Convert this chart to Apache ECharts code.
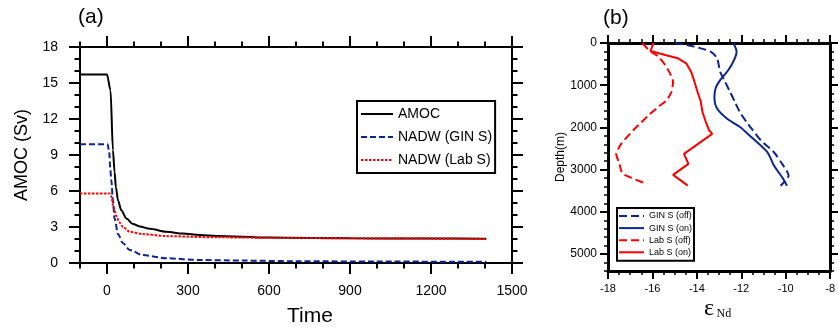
<!DOCTYPE html>
<html><head><meta charset="utf-8">
<script src="https://cdn.jsdelivr.net/npm/echarts@6/dist/echarts.min.js"></script>
<style>html,body{margin:0;padding:0;background:#fff}#c{width:838px;height:330px}</style>
</head><body><div id="c"></div>
<script>
// ---------- panel (a) data ----------
const amocTime  = [-100, 0, 13, 22, 28, 33, 41, 53, 72, 96, 121, 158, 220, 281, 343, 405, 600, 900, 1200, 1405];
const amocVal   = [15.7, 15.7, 14.4, 9.4, 7.6, 6.3, 5.2, 4.4, 3.7, 3.25, 3.05, 2.85, 2.6, 2.45, 2.33, 2.26, 2.12, 2.06, 2.04, 2.03];
const ginTime   = [-100, 2, 8, 12, 16, 22, 28, 41, 59, 84, 133, 220, 343, 500, 700, 1000, 1405];
const ginVal    = [9.9, 9.9, 9.3, 7.9, 6.9, 5.2, 3.7, 2.4, 1.64, 1.08, 0.66, 0.39, 0.25, 0.2, 0.15, 0.12, 0.1];
const labTime   = [-100, 10, 15, 25, 35, 45, 59, 84, 133, 220, 405, 700, 1000, 1405];
const labVal    = [5.8, 5.8, 5.6, 4.6, 3.9, 3.4, 3.0, 2.6, 2.41, 2.24, 2.14, 2.08, 2.05, 2.0];
const timeTicks = [0, 300, 600, 900, 1200, 1500];
const amocTicks = [0, 3, 6, 9, 12, 15, 18];
const seriesNamesA = ['AMOC', 'NADW (GIN S)', 'NADW (Lab S)'];

// ---------- panel (b) data ----------
const ginOffEps   = [-14.99, -14.11, -13.38, -13.09, -12.95, -12.73, -12.51, -12.29, -12.07, -11.77, -11.48, -11.11, -10.53, -10.16, -9.87, -10.23];
const ginOffDepth = [0, 86, 204, 363, 679, 916, 1154, 1391, 1629, 1866, 2066, 2310, 2588, 2863, 3141, 3379];
const ginOnEps    = [-12.36, -12.21, -12.29, -12.58, -12.95, -13.16, -13.21, -13.09, -12.65, -12.07, -11.63, -10.82, -10.53, -10.16, -9.94];
const ginOnDepth  = [0, 204, 363, 641, 879, 1076, 1313, 1551, 1788, 1985, 2190, 2588, 2904, 3181, 3379];
const labOffEps   = [-16.45, -16.17, -15.73, -15.43, -15.21, -15.07, -15.14, -15.36, -15.73, -16.17, -16.5, -16.87, -17.41, -17.63, -17.49, -17.34, -16.24];
const labOffDepth = [0, 166, 323, 522, 719, 916, 1154, 1353, 1510, 1709, 1880, 2070, 2389, 2626, 2863, 3101, 3339];
const labOnEps    = [-15.95, -16.09, -15.87, -15.43, -14.85, -14.48, -14.26, -14.11, -13.97, -13.82, -13.75, -13.6, -13.45, -13.31, -14.58, -14.38, -15.07, -14.41];
const labOnDepth  = [0, 190, 221, 285, 363, 482, 679, 916, 1154, 1391, 1629, 1866, 2066, 2151, 2626, 2863, 3124, 3379];
const epsTicks   = [-18, -16, -14, -12, -10, -8];
const depthTicks = [0, 1000, 2000, 3000, 4000, 5000];
const seriesNamesB = ['GIN S (off)', 'GIN S (on)', 'Lab S (off)', 'Lab S (on)'];

const FONT = 'Liberation Sans, Arial, Helvetica, sans-serif';
const BLUE = '#0b2590', RED = '#ff0000';

function zip(a, b) { return a.map((v, i) => [v, b[i]]); }

function axisPair(grid, pos, min, max, majors, minorInt, o) {
  const base = { type: 'value', gridIndex: grid, position: pos, min: min, max: max,
    inverse: !!o.inverse, splitLine: { show: false } };
  const major = Object.assign({}, base, {
    axisLine: { show: true, onZero: false, lineStyle: { color: '#000', width: o.lineW } },
    axisTick: { show: true, inside: false, customValues: majors, length: o.majLen, lineStyle: { color: '#000', width: o.tickW } },
    axisLabel: { show: !!o.labels, customValues: majors, color: '#000', fontFamily: FONT, fontSize: o.fs, margin: o.margin,
      formatter: function (v) { return String(v); } },
  });
  if (o.name) { major.name = o.name; major.nameLocation = 'middle'; major.nameGap = o.nameGap;
    major.nameTextStyle = { color: '#000', fontFamily: FONT, fontSize: o.nameFs }; }
  const minor = Object.assign({}, base, {
    interval: minorInt,
    axisLine: { show: false, onZero: false },
    axisTick: { show: true, inside: false, length: o.minLen, lineStyle: { color: '#000', width: o.minW } },
    axisLabel: { show: false },
  });
  return [major, minor];
}

const aStyle = { lineW: 2, tickW: 2, majLen: 11, minLen: 5.5, minW: 2, fs: 14, margin: 21 };
const bStyle = { lineW: 3, tickW: 2, majLen: 8, minLen: 4, minW: 1.5, fs: 11, margin: 11 };

const xA = [
  ...axisPair(0, 'bottom', -100, 1500, timeTicks, 100, Object.assign({}, aStyle, { labels: true })),
  ...axisPair(0, 'top', -100, 1500, timeTicks, 100, aStyle),
  ...axisPair(1, 'bottom', -18, -8, epsTicks, 0.5, Object.assign({}, bStyle, { labels: true, margin: 12 })),
  ...axisPair(1, 'top', -18, -8, epsTicks, 0.5, bStyle),
];
const yA = [
  ...axisPair(0, 'left', 0, 18, amocTicks, 1, Object.assign({}, aStyle, { labels: true, margin: 22, name: 'AMOC (Sv)', nameGap: 47, nameFs: 18 })),
  ...axisPair(0, 'right', 0, 18, amocTicks, 1, aStyle),
  ...axisPair(1, 'left', 0, 5400, depthTicks, 200, Object.assign({}, bStyle, { inverse: true, labels: true, fs: 12, margin: 11, name: 'Depth(m)', nameGap: 40, nameFs: 12 })),
  ...axisPair(1, 'right', 0, 5400, depthTicks, 200, Object.assign({}, bStyle, { inverse: true })),
];

function lineSeries(name, xi, yi, data, color, type, smooth) {
  return { name: name, type: 'line', xAxisIndex: xi, yAxisIndex: yi, data: data,
    symbol: 'none', smooth: smooth, smoothMonotone: xi === 0 ? 'x' : null, animation: false,
    lineStyle: { color: color, width: 2, type: type, cap: 'butt' }, itemStyle: { color: color } };
}

const option = {
  animation: false,
  backgroundColor: '#fff',
  textStyle: { fontFamily: FONT, color: '#000' },
  grid: [
    { left: 80, top: 47, right: 326, bottom: 67 },
    { left: 608, top: 43, right: 2, bottom: 59 },
  ],
  xAxis: xA,
  yAxis: yA,
  legend: [
    { data: seriesNamesA, orient: 'vertical', left: 357, top: 101, itemWidth: 32, itemHeight: 14, itemGap: 9,
      padding: [6, 3, 6, 3], borderColor: '#000', borderWidth: 2, backgroundColor: '#fff',
      itemStyle: { opacity: 0 },
      textStyle: { color: '#000', fontFamily: FONT, fontSize: 14 }, selectedMode: false },
    { data: seriesNamesB, orient: 'vertical', left: 617, top: 208, itemWidth: 25, itemHeight: 10, itemGap: 3.1,
      padding: [3.5, 2, 4, 1], borderColor: '#000', borderWidth: 2, backgroundColor: '#fff',
      itemStyle: { opacity: 0 },
      textStyle: { color: '#000', fontFamily: FONT, fontSize: 9 }, selectedMode: false },
  ],
  graphic: [
    { type: 'text', left: 78, top: 7, style: { text: '(a)', fontSize: 21, fontFamily: FONT, fill: '#000' } },
    { type: 'text', left: 603, top: 8, style: { text: '(b)', fontSize: 21, fontFamily: FONT, fill: '#000' } },
    { type: 'text', x: 310, y: 316, style: { text: 'Time', fontSize: 21, fontFamily: FONT, fill: '#000', align: 'center', verticalAlign: 'middle' } },
    { type: 'text', x: 704, y: 309, style: { text: 'ε', fontSize: 24, fontFamily: 'Liberation Serif, Times New Roman, serif', fill: '#000', align: 'left', verticalAlign: 'middle' } },
    { type: 'text', x: 716.5, y: 314, style: { text: 'Nd', fontSize: 12, fontFamily: 'Liberation Serif, Times New Roman, serif', fill: '#000', align: 'left', verticalAlign: 'middle' } },
  ],
  series: [
    lineSeries(seriesNamesA[0], 0, 0, zip(amocTime, amocVal), '#000', 'solid', 0.3),
    lineSeries(seriesNamesA[1], 0, 0, zip(ginTime, ginVal), BLUE, [6, 3], 0.3),
    lineSeries(seriesNamesA[2], 0, 0, zip(labTime, labVal), RED, [2.5, 1.5], 0.3),
    lineSeries(seriesNamesB[0], 4, 4, zip(ginOffEps, ginOffDepth), BLUE, [8, 4], 0.25),
    lineSeries(seriesNamesB[1], 4, 4, zip(ginOnEps, ginOnDepth), BLUE, 'solid', 0.25),
    lineSeries(seriesNamesB[2], 4, 4, zip(labOffEps, labOffDepth), RED, [8, 4], 0.15),
    lineSeries(seriesNamesB[3], 4, 4, zip(labOnEps, labOnDepth), RED, 'solid', 0),
  ],
};
echarts.init(document.getElementById('c'), null, { renderer: 'canvas' }).setOption(option);
</script>
</body></html>
